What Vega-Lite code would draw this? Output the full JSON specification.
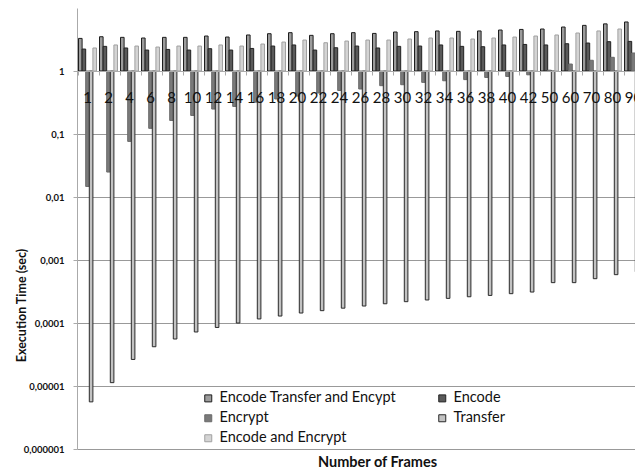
{
  "$schema": "https://vega.github.io/schema/vega-lite/v6.json",
  "width": 558,
  "height": 441,
  "autosize": "none",
  "padding": {"left": 77, "top": 8, "right": 0, "bottom": 22},
  "background": "white",
  "config": {"view": {"stroke": null}, "font": "Lato"},
  "data": {"values": [
    {"f":"1","s":"Encode Transfer and Encypt","v":3.29},{"f":"1","s":"Encode","v":2.23},{"f":"1","s":"Encrypt","v":0.0147},{"f":"1","s":"Transfer","v":0.0000056},{"f":"1","s":"Encode and Encrypt","v":2.32},
    {"f":"2","s":"Encode Transfer and Encypt","v":3.5},{"f":"2","s":"Encode","v":2.46},{"f":"2","s":"Encrypt","v":0.0249},{"f":"2","s":"Transfer","v":0.0000113},{"f":"2","s":"Encode and Encrypt","v":2.59},
    {"f":"4","s":"Encode Transfer and Encypt","v":3.42},{"f":"4","s":"Encode","v":2.32},{"f":"4","s":"Encrypt","v":0.0763},{"f":"4","s":"Transfer","v":0.0000264},{"f":"4","s":"Encode and Encrypt","v":2.49},
    {"f":"6","s":"Encode Transfer and Encypt","v":3.34},{"f":"6","s":"Encode","v":2.15},{"f":"6","s":"Encrypt","v":0.123},{"f":"6","s":"Transfer","v":0.000042},{"f":"6","s":"Encode and Encrypt","v":2.40},
    {"f":"8","s":"Encode Transfer and Encypt","v":3.42},{"f":"8","s":"Encode","v":2.2},{"f":"8","s":"Encrypt","v":0.164},{"f":"8","s":"Transfer","v":0.0000557},{"f":"8","s":"Encode and Encrypt","v":2.49},
    {"f":"10","s":"Encode Transfer and Encypt","v":3.42},{"f":"10","s":"Encode","v":2.15},{"f":"10","s":"Encrypt","v":0.197},{"f":"10","s":"Transfer","v":0.000072},{"f":"10","s":"Encode and Encrypt","v":2.49},
    {"f":"12","s":"Encode Transfer and Encypt","v":3.59},{"f":"12","s":"Encode","v":2.26},{"f":"12","s":"Encrypt","v":0.249},{"f":"12","s":"Transfer","v":0.000085},{"f":"12","s":"Encode and Encrypt","v":2.59},
    {"f":"14","s":"Encode Transfer and Encypt","v":3.46},{"f":"14","s":"Encode","v":2.15},{"f":"14","s":"Encrypt","v":0.274},{"f":"14","s":"Transfer","v":0.0001},{"f":"14","s":"Encode and Encrypt","v":2.49},
    {"f":"16","s":"Encode Transfer and Encypt","v":3.73},{"f":"16","s":"Encode","v":2.28},{"f":"16","s":"Encrypt","v":0.32},{"f":"16","s":"Transfer","v":0.000116},{"f":"16","s":"Encode and Encrypt","v":2.68},
    {"f":"18","s":"Encode Transfer and Encypt","v":3.91},{"f":"18","s":"Encode","v":2.49},{"f":"18","s":"Encrypt","v":0.36},{"f":"18","s":"Transfer","v":0.000129},{"f":"18","s":"Encode and Encrypt","v":2.88},
    {"f":"20","s":"Encode Transfer and Encypt","v":4.06},{"f":"20","s":"Encode","v":2.59},{"f":"20","s":"Encrypt","v":0.40},{"f":"20","s":"Transfer","v":0.000144},{"f":"20","s":"Encode and Encrypt","v":3.10},
    {"f":"22","s":"Encode Transfer and Encypt","v":3.68},{"f":"22","s":"Encode","v":2.15},{"f":"22","s":"Encrypt","v":0.447},{"f":"22","s":"Transfer","v":0.000157},{"f":"22","s":"Encode and Encrypt","v":2.81},
    {"f":"24","s":"Encode Transfer and Encypt","v":3.91},{"f":"24","s":"Encode","v":2.34},{"f":"24","s":"Encrypt","v":0.49},{"f":"24","s":"Transfer","v":0.000172},{"f":"24","s":"Encode and Encrypt","v":2.99},
    {"f":"26","s":"Encode Transfer and Encypt","v":4.06},{"f":"26","s":"Encode","v":2.49},{"f":"26","s":"Encrypt","v":0.518},{"f":"26","s":"Transfer","v":0.000186},{"f":"26","s":"Encode and Encrypt","v":3.10},
    {"f":"28","s":"Encode Transfer and Encypt","v":3.95},{"f":"28","s":"Encode","v":2.32},{"f":"28","s":"Encrypt","v":0.585},{"f":"28","s":"Transfer","v":0.000202},{"f":"28","s":"Encode and Encrypt","v":3.10},
    {"f":"30","s":"Encode Transfer and Encypt","v":4.16},{"f":"30","s":"Encode","v":2.46},{"f":"30","s":"Encrypt","v":0.606},{"f":"30","s":"Transfer","v":0.000218},{"f":"30","s":"Encode and Encrypt","v":3.22},
    {"f":"32","s":"Encode Transfer and Encypt","v":4.21},{"f":"32","s":"Encode","v":2.49},{"f":"32","s":"Encrypt","v":0.66},{"f":"32","s":"Transfer","v":0.000232},{"f":"32","s":"Encode and Encrypt","v":3.34},
    {"f":"34","s":"Encode Transfer and Encypt","v":4.32},{"f":"34","s":"Encode","v":2.59},{"f":"34","s":"Encrypt","v":0.70},{"f":"34","s":"Transfer","v":0.000246},{"f":"34","s":"Encode and Encrypt","v":3.34},
    {"f":"36","s":"Encode Transfer and Encypt","v":4.26},{"f":"36","s":"Encode","v":2.46},{"f":"36","s":"Encrypt","v":0.73},{"f":"36","s":"Transfer","v":0.000261},{"f":"36","s":"Encode and Encrypt","v":3.22},
    {"f":"38","s":"Encode Transfer and Encypt","v":4.32},{"f":"38","s":"Encode","v":2.43},{"f":"38","s":"Encrypt","v":0.79},{"f":"38","s":"Transfer","v":0.000274},{"f":"38","s":"Encode and Encrypt","v":3.34},
    {"f":"40","s":"Encode Transfer and Encypt","v":4.47},{"f":"40","s":"Encode","v":2.59},{"f":"40","s":"Encrypt","v":0.82},{"f":"40","s":"Transfer","v":0.000292},{"f":"40","s":"Encode and Encrypt","v":3.46},
    {"f":"42","s":"Encode Transfer and Encypt","v":4.57},{"f":"42","s":"Encode","v":2.64},{"f":"42","s":"Encrypt","v":0.87},{"f":"42","s":"Transfer","v":0.00031},{"f":"42","s":"Encode and Encrypt","v":3.59},
    {"f":"50","s":"Encode Transfer and Encypt","v":4.64},{"f":"50","s":"Encode","v":2.59},{"f":"50","s":"Encrypt","v":1.03},{"f":"50","s":"Transfer","v":0.000437},{"f":"50","s":"Encode and Encrypt","v":3.73},
    {"f":"60","s":"Encode Transfer and Encypt","v":4.99},{"f":"60","s":"Encode","v":2.71},{"f":"60","s":"Encrypt","v":1.29},{"f":"60","s":"Transfer","v":0.000437},{"f":"60","s":"Encode and Encrypt","v":4.01},
    {"f":"70","s":"Encode Transfer and Encypt","v":5.3},{"f":"70","s":"Encode","v":2.78},{"f":"70","s":"Encrypt","v":1.48},{"f":"70","s":"Transfer","v":0.000505},{"f":"70","s":"Encode and Encrypt","v":4.32},
    {"f":"80","s":"Encode Transfer and Encypt","v":5.6},{"f":"80","s":"Encode","v":2.92},{"f":"80","s":"Encrypt","v":1.65},{"f":"80","s":"Transfer","v":0.000585},{"f":"80","s":"Encode and Encrypt","v":4.64},
    {"f":"90","s":"Encode Transfer and Encypt","v":6.0},{"f":"90","s":"Encode","v":2.95},{"f":"90","s":"Encrypt","v":1.93},{"f":"90","s":"Transfer","v":0.00065},{"f":"90","s":"Encode and Encrypt","v":4.9}
  ]},
  "mark": {"type": "bar", "strokeWidth": 1},
  "encoding": {
    "x": {
      "field": "f", "type": "ordinal", "sort": null,
      "scale": {"range": [0, 567], "paddingInner": 0.143, "paddingOuter": 0.0715},
      "axis": {
        "orient": "bottom", "offset": -378, "grid": false, "zindex": 1,
        "labelAngle": 0, "labelFont": "Lato", "labelFontSize": 15, "labelColor": "#111",
        "labelPadding": 15, "tickSize": 4, "tickColor": "#aaa", "bandPosition": 0,
        "domainColor": "#aaa", "labelOverlap": false,
        "title": "Number of Frames", "titleFont": "Lato", "titleFontSize": 14.5, "titleFontWeight": "bold",
        "titleColor": "#111", "titleX": 300, "titleY": 391, "titleBaseline": "middle", "titleAnchor": null, "titleAlign": "center"
      }
    },
    "xOffset": {
      "field": "s", "type": "nominal",
      "sort": ["Encode Transfer and Encypt", "Encode", "Encrypt", "Transfer", "Encode and Encrypt"],
      "scale": {"paddingInner": 0, "paddingOuter": 0}
    },
    "y": {
      "field": "v", "type": "quantitative",
      "scale": {"type": "log", "domain": [0.000001, 10], "nice": false},
      "axis": {
        "values": [0.000001, 0.00001, 0.0001, 0.001, 0.01, 0.1, 1],
        "labelExpr": "replace(format(datum.value, '.6~f'), '.', ',')",
        "labelFont": "Lato", "labelFontSize": 9.5, "labelFontWeight": "bold", "labelColor": "#111",
        "labelPadding": 9, "tickSize": 4, "tickColor": "#aaa", "domainColor": "#aaa",
        "gridColor": "#999", "gridWidth": 1,
        "title": "Execution Time (sec)", "titleFont": "Lato", "titleFontSize": 12.5, "titleFontWeight": "bold",
        "titleColor": "#111", "titleX": -49, "titleY": 297, "titleAngle": -90, "titleBaseline": "bottom", "titleAlign": "center"
      }
    },
    "y2": {"datum": 1},
    "color": {
      "field": "s", "type": "nominal",
      "scale": {
        "domain": ["Encode Transfer and Encypt", "Encode", "Encrypt", "Transfer", "Encode and Encrypt"],
        "range": ["#9c9c9c", "#5a5a5a", "#7a7a7a", "#c2c2c2", "#d4d4d4"]
      },
      "legend": {
        "title": null, "orient": "none", "legendX": 124, "legendY": 383, "columns": 2, "direction": "horizontal",
        "columnPadding": 38, "rowPadding": 5, "symbolType": "square", "symbolSize": 49,
        "symbolStrokeWidth": 1, "labelFont": "Lato", "labelFontSize": 14.5, "labelColor": "#111",
        "labelOffset": 4, "labelLimit": 400, "padding": 0
      }
    },
    "stroke": {
      "field": "s", "type": "nominal",
      "scale": {
        "domain": ["Encode Transfer and Encypt", "Encode", "Encrypt", "Transfer", "Encode and Encrypt"],
        "range": ["#1e1e1e", "#222222", "#6a6a6a", "#2a2a2a", "#a0a0a0"]
      },
      "legend": {
        "title": null, "orient": "none", "legendX": 124, "legendY": 383, "columns": 2, "direction": "horizontal",
        "columnPadding": 38, "rowPadding": 5, "symbolType": "square", "symbolSize": 49,
        "symbolStrokeWidth": 1, "labelFont": "Lato", "labelFontSize": 14.5, "labelColor": "#111",
        "labelOffset": 4, "labelLimit": 400, "padding": 0
      }
    }
  }
}
